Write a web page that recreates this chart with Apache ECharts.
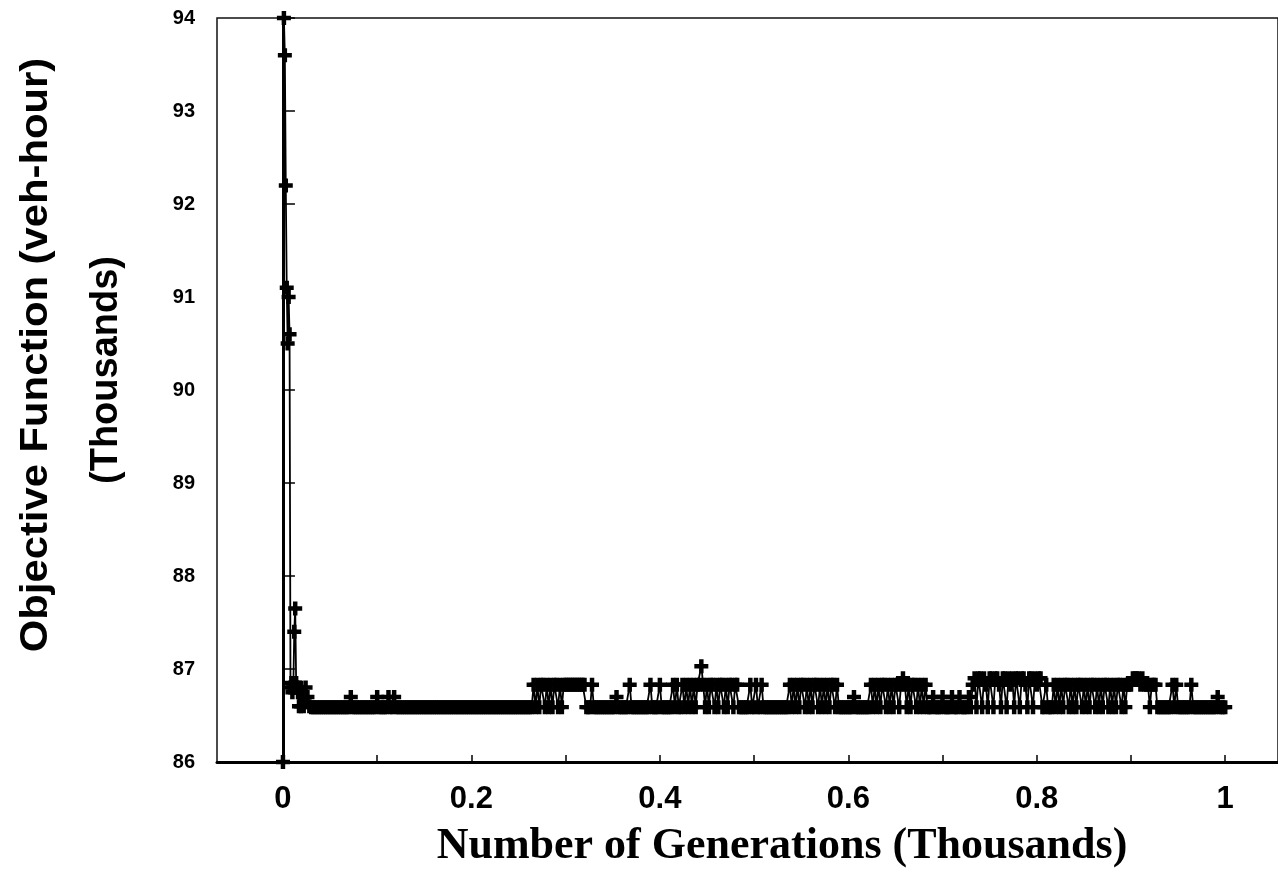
<!DOCTYPE html>
<html>
<head>
<meta charset="utf-8">
<style>
  html, body { margin: 0; padding: 0; background: #fff; }
  #chart { width: 1278px; height: 895px; }
</style>
<script src="https://cdn.jsdelivr.net/npm/echarts@6/dist/echarts.min.js"></script>
</head>
<body>
<div id="chart"></div>
<script>
// ---- Data ----
// Early generations (explicit generation numbers and objective values, thousands of veh-hour)
const earlyGenerations = [0, 1, 2, 3, 4, 5, 6, 7, 8, 9, 10, 11, 12, 13, 14, 15, 16, 17, 18, 19, 20, 22, 24, 26, 28];
const earlyValues = [86.0, 94.0, 93.6, 92.2, 91.1, 90.5, 91.0, 90.6, 86.8, 86.85, 86.75, 86.8, 87.4, 87.65, 86.85, 86.8, 86.75, 86.6, 86.8, 86.6, 86.75, 86.6, 86.8, 86.7, 86.6];

// Later generations: one reading every 2 generations from generation 30 to 1000.
const lateStartGeneration = 30;
const lateStep = 2;
// Objective levels seen in the later part of the run
const levelValues = [86.59, 86.7, 86.83, 86.9, 87.03];
// Level index (into levelValues) of each reading
const lateLevelCodes = [
  0,0,0,0,0,0,0,0,0,0,0,0,0,0,0,0,0,0,0,0,0,          // 30-70
  1,                                                  // 72
  0,0,0,0,0,0,0,0,0,0,0,0,0,                          // 74-98
  1,                                                  // 100
  0,0,0,0,0,                                          // 102-110
  1, 0,0, 1,                                          // 112-118
  0,0,0,0,0,0,0,0,0,0,0,0,0,0,0,0,0,0,0,0,0,0,0,0,0,0,0,0,0,0,0,0,0,0,0,0,0, // 120-192
  0,0,0,0,0,0,0,0,0,0,0,0,0,0,0,0,0,0,0,0,0,0,0,0,0,0,0,0,0,0,0,0,0,0,0,0,    // 194-264
  2,0,2,0,2,2,0,2,0,2,0,2,2,0,2,0,2,2,                // 266-300
  2,2,2,2,2,2,2,2,2,2,                                // 302-320
  0,0,0,2,                                            // 322-328
  0,0,0,0,0,0,0,0,0,0,0,0,1,0,0,0,0,0,0,              // 330-366
  2,                                                  // 368
  0,0,0,0,0,0,0,0,0,0,                                // 370-388
  2, 0,0,0,0, 2,                                      // 390-400
  0,0,0,0,0,0,                                        // 402-412
  2,0,2,0,0,2,0,2,0,                                  // 414-430
  2, 0,                                               // 432-434
  2,0,2,2,4,2,0,2,0,2,2,0,2,0,2,2,0,2,0,2,2,0,2,2,    // 436-482
  0,0,0,0,0,0,                                        // 484-494
  2,0,0,2,0,0,2,0,0,                                  // 496-512
  0,0,0,0,0,0,0,0,0,0,0,0,                            // 514-536
  2,0,2,0,2,0,2,2,0,2,0,2,0,2,2,0,2,0,2,0,2,0,2,2,0,2,0, // 538-590
  0,0,0,0,0,0,0,1,0,0,0,0,0,0,0,0,                    // 592-622
  2,0,2,0,2,0,2,2,0,2,0,2,0,2,2,0,2,3,2,0,2,0,2,2,0,2,0,2,0,2, // 624-682
  0,0,0,1,0,0,0,0,1,0,0,0,0,1,0,0,0,1,0,0,0,0,1,0,    // 684-730
  2,3,0,3,3,0,3,2,0,3,3,0,3,3,2,0,3,3,0,3,2,3,0,3,3,0,3,3,2,0,3,3,0,3,2,3,3, // 732-804
  0,0,2,0,0,0,2,0,                                    // 806-820
  2,0,2,0,2,2,0,2,0,2,0,2,2,0,2,0,2,0,2,2,0,2,0,2,0,2,2,0,2,0,2,0,2,2,0,2,0,2,2, // 822-898
  2,3,3,3,3,2,3,2,                                    // 900-914
  2,2,0,2,2,2,0,                                      // 916-928
  0,0,0,0,0,0,0,                                      // 930-942
  2,0,2,0,                                            // 944-950
  0,0,0,0,0,0,                                        // 952-962
  2,                                                  // 964
  0,0,0,0,0,0,0,0,0,0,0,0,0,                          // 966-990
  1,                                                  // 992
  0,0,0,0                                             // 994-1000
];

// Axis ticks and labels
const yTickValues = [86, 87, 88, 89, 90, 91, 92, 93, 94];
const xTickValues = [0, 100, 200, 300, 400, 500, 600, 700, 800, 900, 1000];
const xLabelValues = [0, 200, 400, 600, 800, 1000];
const xLabelTexts = ['0', '0.2', '0.4', '0.6', '0.8', '1'];

const xTitle = 'Number of Generations (Thousands)';
const yTitleLine1 = 'Objective Function (veh-hour)';
const yTitleLine2 = '(Thousands)';

// ---- Build series points ----
const points = [];
earlyGenerations.forEach((g, i) => points.push([g, earlyValues[i]]));
lateLevelCodes.forEach((c, i) => points.push([lateStartGeneration + lateStep * i, levelValues[c]]));

const plusPath = 'path://M3.4,0h3.2v3.4h3.4v3.2h-3.4v3.4h-3.2v-3.4h-3.4v-3.2h3.4z';

const chart = echarts.init(document.getElementById('chart'), null, { renderer: 'canvas' });
chart.setOption({
  backgroundColor: '#ffffff',
  animation: false,
  grid: {
    left: 217, top: 18, right: -3, bottom: 133,
    show: true, borderColor: '#111', borderWidth: 1.5, backgroundColor: 'transparent'
  },
  xAxis: {
    type: 'value',
    min: -70, max: 1056,
    axisLine: { show: true, lineStyle: { color: '#000', width: 3 } },
    axisTick: { show: true, inside: true, length: 7, customValues: xTickValues, lineStyle: { color: '#000', width: 1.5 } },
    axisLabel: {
      show: true,
      customValues: xLabelValues,
      formatter: function (v) { const k = xLabelValues.indexOf(v); return k >= 0 ? xLabelTexts[k] : ''; },
      margin: 22,
      color: '#000',
      fontFamily: '"Liberation Sans Narrow", "Liberation Sans", Arial, sans-serif',
      fontWeight: 'bold',
      fontSize: 31
    },
    splitLine: { show: false }
  },
  yAxis: {
    type: 'value',
    min: 86, max: 94, interval: 1,
    axisLine: { show: true, lineStyle: { color: '#000', width: 3 } },
    axisTick: { show: true, inside: true, length: 12, lineStyle: { color: '#000', width: 1.5 } },
    axisLabel: {
      show: true,
      margin: 22,
      color: '#000',
      fontFamily: '"Liberation Sans", Arial, sans-serif',
      fontWeight: 'bold',
      fontSize: 20
    },
    splitLine: { show: false }
  },
  graphic: [
    {
      type: 'text', x: 37, y: 355, rotation: Math.PI / 2, scaleX: 1.1,
      style: {
        text: yTitleLine1, fill: '#000',
        font: 'bold 38px "Liberation Sans", Arial, sans-serif',
        align: 'center', verticalAlign: 'middle'
      }
    },
    {
      type: 'text', x: 107, y: 370, rotation: Math.PI / 2,
      style: {
        text: yTitleLine2, fill: '#000',
        font: 'bold 38px "Liberation Sans", Arial, sans-serif',
        align: 'center', verticalAlign: 'middle'
      }
    },
    {
      type: 'text', x: 782, y: 847,
      style: {
        text: xTitle, fill: '#000',
        font: 'bold 44px "Liberation Serif", "Times New Roman", serif',
        align: 'center', verticalAlign: 'middle'
      }
    }
  ],
  series: [{
    type: 'line',
    data: points,
    clip: true,
    symbol: plusPath,
    symbolSize: 14,
    showAllSymbol: true,
    itemStyle: { color: '#000' },
    lineStyle: { color: '#000', width: 1.8 },
    emphasis: { disabled: true }
  }]
});
</script>
</body>
</html>
